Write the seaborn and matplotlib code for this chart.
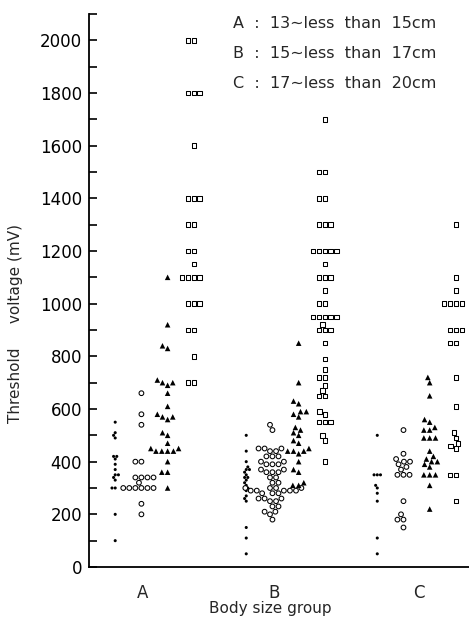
import warnings
warnings.filterwarnings("ignore")
import matplotlib
matplotlib.use("Agg")
import matplotlib.pyplot as plt
from matplotlib.ticker import MultipleLocator
import numpy as np
import pandas as pd
import seaborn as sns

# ---------------- data ----------------
groups = ["A", "B", "C"]
subsets = ["dot", "circle", "triangle", "square"]
tick_labels = ["A", "B", "C"]
legend_lines = ["A  :  13\u223cless  than  15cm",
                "B  :  15\u223cless  than  17cm",
                "C  :  17\u223cless  than  20cm"]

a_dot = [100, 200, 300, 300, 330, 340, 350, 350, 370, 390, 410, 420, 420,
         490, 500, 510, 550]
a_circle = [200, 240, 300, 300, 300, 300, 300, 300, 320, 340, 340, 340, 340,
            400, 400, 540, 580, 660]
a_triangle = [1100, 920, 840, 830, 710, 700, 700, 690, 660, 610, 580, 570,
              570, 560, 510, 500, 470, 450, 450, 440, 440, 440, 440, 400,
              360, 360, 300]
a_square = [2000, 2000, 1800, 1800, 1800, 1600, 1400, 1400, 1400, 1300, 1300,
            1200, 1200, 1150, 1100, 1100, 1100, 1100, 1000, 1000, 1000, 900,
            900, 800, 700, 700]

b_dot = [500, 440, 400, 380, 370, 370, 360, 350, 340, 340, 330, 320, 310,
         300, 300, 290, 270, 260, 250, 150, 110, 50]
b_circle = [540, 520, 450, 450, 450, 440, 440, 420, 420, 420, 400, 400, 390,
            390, 390, 370, 370, 360, 360, 360, 340, 340, 320, 320, 300, 300,
            300, 300, 290, 290, 290, 290, 290, 280, 280, 280, 260, 260, 260,
            250, 250, 230, 230, 210, 210, 200, 180]
b_triangle = [850, 700, 630, 620, 590, 590, 580, 570, 530, 520, 510, 500,
              480, 470, 450, 440, 440, 440, 430, 400, 370, 360, 320, 310, 310]
b_square = [1700, 1500, 1500, 1400, 1400, 1300, 1300, 1300, 1200, 1200, 1200,
            1200, 1200, 1150, 1100, 1100, 1100, 1050, 1000, 1000, 950, 950,
            950, 950, 950, 920, 900, 900, 900, 850, 790, 750, 720, 720, 690,
            670, 650, 650, 590, 580, 550, 550, 550, 500, 480, 400]

c_dot = [500, 350, 350, 350, 310, 300, 280, 250, 110, 50]
c_circle = [520, 430, 410, 400, 400, 390, 380, 370, 350, 350, 350, 250, 200,
            180, 180, 150]
c_triangle = [720, 700, 650, 560, 550, 530, 520, 520, 490, 490, 490, 440,
              420, 410, 400, 400, 390, 380, 350, 350, 350, 310, 220]
c_square = [1300, 1100, 1050, 1000, 1000, 1000, 1000, 900, 900, 900, 850,
            850, 720, 610, 510, 490, 470, 460, 450, 350, 350, 250]

series = {
    ("A", "dot"): a_dot, ("A", "circle"): a_circle,
    ("A", "triangle"): a_triangle, ("A", "square"): a_square,
    ("B", "dot"): b_dot, ("B", "circle"): b_circle,
    ("B", "triangle"): b_triangle, ("B", "square"): b_square,
    ("C", "dot"): c_dot, ("C", "circle"): c_circle,
    ("C", "triangle"): c_triangle, ("C", "square"): c_square,
}
rows = []
for (g, s), vals in series.items():
    for v in vals:
        rows.append({"group": g, "subset": s, "value": v})
df = pd.DataFrame(rows)

# ---------------- style ----------------
sns.set_style("ticks")
plt.rcParams["font.family"] = ["DejaVu Sans"]

styles = {
    "dot": dict(marker="o", size=2.2, fill="black", lw=0),
    "circle": dict(marker="o", size=3.4, fill="white", lw=0.75),
    "triangle": dict(marker="^", size=4.0, fill="black", lw=0),
    "square": dict(marker="s", size=3.3, fill="white", lw=0.75),
}

fig = plt.figure(figsize=(4.69, 6.19), dpi=100)
ax = fig.add_axes([89 / 469, 52 / 619, 380 / 469, 553 / 619])

for s in subsets:
    st = styles[s]
    sns.swarmplot(data=df[df["subset"] == s], x="group", y="value",
                  hue="subset", order=groups, hue_order=subsets, dodge=True,
                  palette={k: styles[k]["fill"] for k in subsets},
                  marker=st["marker"], size=st["size"], edgecolor="black",
                  linewidth=st["lw"], legend=False, ax=ax)

ax.set_xlim(-0.5, 2.4)
ax.set_ylim(0, 2100)
ax.yaxis.set_major_locator(MultipleLocator(200))
ax.yaxis.set_minor_locator(MultipleLocator(100))
ax.tick_params(axis="y", which="both", direction="in", length=6, width=1.2,
               labelsize=12, pad=5, color="black", labelcolor="black")
ax.set_xticks([-0.09, 0.91, 2.02])
ax.set_xticklabels(tick_labels)
ax.tick_params(axis="x", length=0, labelsize=12, pad=12)

sns.despine(ax=ax)
for sp in ["left", "bottom"]:
    ax.spines[sp].set_linewidth(1.3)
    ax.spines[sp].set_color("black")

ax.set_xlabel("Body size group", fontsize=11)
ax.xaxis.set_label_coords(0.476, -0.061)
ax.set_ylabel("Threshold     voltage (mV)", fontsize=11)
ax.yaxis.set_label_coords(-0.175, 0.44)

for i, line in enumerate(legend_lines):
    fig.text(233 / 469, 1 - (24 + i * 30) / 619, line, fontsize=11.5,
             ha="left", va="center")

fig.savefig("out.png", dpi=100)
